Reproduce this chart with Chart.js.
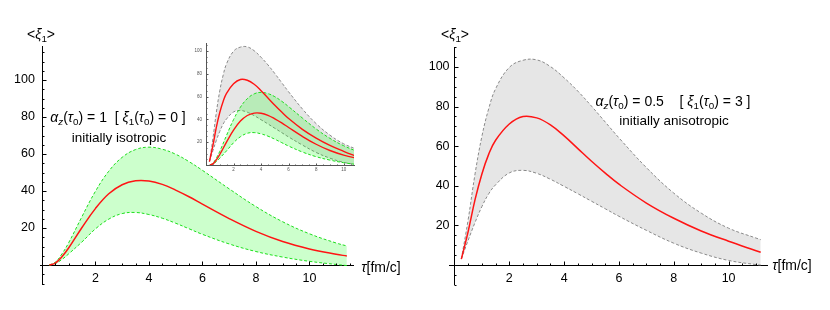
<!DOCTYPE html>
<html>
<head>
<meta charset="utf-8">
<script src="https://cdn.jsdelivr.net/npm/chart.js@4.4.1/dist/chart.umd.min.js"></script>
<style>
  body { margin: 0; background: #fff; width: 830px; height: 310px; position: relative; overflow: hidden;
         font-family: "Liberation Sans", Arial, sans-serif; }
  canvas { position: absolute; }
  .txt { position: absolute; transform: translate(-50%, -50%); white-space: pre; font-size: 13.5px;
         color: #000; line-height: 1; }
  .txt sub { font-size: 70%; vertical-align: -0.3em; line-height: 0; }
</style>
</head>
<body>
<canvas id="links" width="420" height="310" style="left:0;top:0"></canvas>
<canvas id="rechts" width="410" height="310" style="left:420px;top:0"></canvas>
<canvas id="einsatz" width="170" height="140" style="left:190px;top:36px"></canvas>

<div class="txt" style="left:41px;top:34px;font-size:14px">&lt;<i>ξ</i><sub>1</sub>&gt;</div>
<div class="txt" style="left:455px;top:34px;font-size:14px">&lt;<i>ξ</i><sub>1</sub>&gt;</div>
<div class="txt" style="left:381px;top:267px;font-size:14px"><i>τ</i>[fm/c]</div>
<div class="txt" style="left:792px;top:265px;font-size:14px"><i>τ</i>[fm/c]</div>
<div class="txt" style="left:118px;top:117px;font-size:14px"><i>α<sub>z</sub></i>(<i>τ</i><sub>0</sub>) = 1  [ <i>ξ</i><sub>1</sub>(<i>τ</i><sub>0</sub>) = 0 ]</div>
<div class="txt" style="left:119px;top:138px">initially isotropic</div>
<div class="txt" style="left:673px;top:101px;font-size:14px"><i>α<sub>z</sub></i>(<i>τ</i><sub>0</sub>) = 0.5    [ <i>ξ</i><sub>1</sub>(<i>τ</i><sub>0</sub>) = 3 ]</div>
<div class="txt" style="left:674px;top:121px">initially anisotropic</div>

<script>
// linkes Bild: anfangs isotrop
const tauLinks = [0.28, 0.5, 0.75, 1, 1.5, 2, 2.5, 3, 3.5, 4, 4.5, 5, 5.5, 6, 7, 8, 9, 10, 11, 11.4];
const linksMitte = [0, 1.0, 4.5, 9.2, 20.3, 30.5, 38.5, 43.4, 45.5, 45.4, 43.6, 40.5, 36.9, 32.9, 25.1, 18.2, 12.7, 8.7, 5.8, 4.9];
const linksOben = [0, 1.5, 6.0, 12.0, 26.2, 39.8, 50.7, 58.2, 62.4, 63.7, 62.6, 59.9, 55.9, 51.2, 41.2, 31.6, 23.4, 16.9, 11.9, 10.3];
const linksUnten = [0, 0.8, 3.0, 6.0, 12.5, 19.5, 24.8, 27.8, 28.4, 27.3, 25.3, 22.6, 19.6, 16.6, 11.4, 7.3, 4.3, 2.0, 0.3, -0.3];

// rechtes Bild: anfangs anisotrop
const tauRechts = [0.25, 0.5, 0.75, 1, 1.25, 1.5, 2, 2.5, 3, 3.5, 4, 4.5, 5, 5.5, 6, 7, 8, 9, 10, 11, 11.17];
const rechtsMitte = [3, 17, 33, 46, 56, 63, 71.2, 75, 74.3, 70.8, 65.2, 58.8, 52.4, 46.4, 40.8, 31.3, 23.6, 17.2, 12, 7.2, 6.4];
const rechtsOben = [3, 23, 46, 65, 79, 89, 99.8, 103.4, 103.6, 100.2, 94.5, 87.8, 80.2, 72.2, 64.2, 49.2, 36.3, 26.2, 18.6, 13.6, 12.8];
const rechtsUnten = [3, 12.5, 21.5, 29.5, 36, 40.5, 46.5, 47.8, 46.3, 43.3, 39.7, 36, 32.2, 28.4, 24.6, 17.5, 11, 6, 2.3, 0.2, 0];

// Achsenbeschriftung und Striche
const xHaupt = [2, 4, 6, 8, 10];
const xNeben = [0.5, 1, 1.5, 2.5, 3, 3.5, 4.5, 5, 5.5, 6.5, 7, 7.5, 8.5, 9, 9.5, 10.5, 11, 11.5];
const yHaupt = [20, 40, 60, 80, 100];
const yNeben = [-10, -5, 5, 10, 15, 25, 30, 35, 45, 50, 55, 65, 70, 75, 85, 90, 95, 105, 110, 115];

const ROT = '#ff1414';
const GRUEN = '#1fdc1f';
const GRUEN_FL = 'rgba(0,255,0,0.2)';
const GRAU = '#8a8a8a';
const GRAU_FL = 'rgba(128,128,128,0.2)';
const SCHRIFT = '"Liberation Sans", Arial, sans-serif';

function punkte(tau, werte) {
  return tau.map((t, i) => ({ x: t, y: werte[i] }));
}

function kurve(tau, werte, farbe, gestrichelt, fuellung, breite) {
  return {
    data: punkte(tau, werte),
    borderColor: farbe,
    borderWidth: breite || (gestrichelt ? 1 : 1.5),
    borderDash: gestrichelt ? [3, 2] : [],
    backgroundColor: fuellung || 'transparent',
    fill: fuellung ? '+1' : false,
    pointRadius: 0,
    tension: 0.4
  };
}

// y-Achse bei tau = 0 samt Strichen nach innen (wie bei Mathematica)
const striche = {
  id: 'striche',
  afterDraw(chart, args, opt) {
    const { ctx, chartArea, scales: { x, y } } = chart;
    const x0 = Math.round(x.getPixelForValue(0)) + 0.5;
    const y0 = Math.round(y.getPixelForValue(0)) + 0.5;
    ctx.save();
    ctx.strokeStyle = opt.farbe;
    ctx.lineWidth = 1;
    ctx.beginPath();
    ctx.moveTo(x0, chartArea.top); ctx.lineTo(x0, chartArea.bottom);
    const xs = (werte, l) => werte.forEach(v => {
      if (v > x.max) return;
      const px = Math.round(x.getPixelForValue(v)) + 0.5;
      ctx.moveTo(px, y0); ctx.lineTo(px, y0 - l);
    });
    const ys = (werte, l) => werte.forEach(v => {
      if (v > y.max || v < y.min) return;
      const py = Math.round(y.getPixelForValue(v)) + 0.5;
      ctx.moveTo(x0, py); ctx.lineTo(x0 + l, py);
    });
    xs(xHaupt, opt.haupt); xs(xNeben, opt.neben);
    ys(yHaupt, opt.haupt); ys(yNeben, opt.neben);
    ctx.stroke();
    ctx.restore();
  }
};

// yLage: x-Wert, an dem die y-Beschriftung rechtsbündig endet (etwas links der Achse)
function skalen(xMin, xMax, yMin, yMax, gr, xAbstand, yLage, farbe) {
  const tick = { font: { family: SCHRIFT, size: gr }, color: farbe, maxRotation: 0, autoSkip: false };
  return {
    x: {
      type: 'linear', min: xMin, max: xMax, position: { y: 0 },
      afterBuildTicks: ax => { ax.ticks = xHaupt.filter(v => v <= xMax).map(v => ({ value: v })); },
      ticks: Object.assign({ padding: xAbstand }, tick),
      grid: { display: false, drawTicks: false },
      border: { display: true, color: farbe, width: 1 }
    },
    y: {
      type: 'linear', min: yMin, max: yMax, position: { x: yLage },
      afterBuildTicks: ax => { ax.ticks = yHaupt.map(v => ({ value: v })); },
      ticks: tick,
      grid: { display: false, drawTicks: false },
      border: { display: false }
    }
  };
}

function bild(id, datensaetze, sk, rand, strichOpt) {
  new Chart(document.getElementById(id), {
    type: 'line',
    data: { datasets: datensaetze },
    options: {
      responsive: false,
      animation: false,
      layout: { padding: rand },
      scales: sk,
      plugins: { legend: { display: false }, tooltip: { enabled: false }, striche: strichOpt }
    },
    plugins: [striche]
  });
}

bild('links', [
  kurve(tauLinks, linksMitte, ROT, false),
  kurve(tauLinks, linksOben, GRUEN, true, GRUEN_FL),
  kurve(tauLinks, linksUnten, GRUEN, true)
], skalen(-0.07, 11.63, -10.8, 118.4, 12.5, 6, -0.26, '#000'),
  { left: 40, right: 67, top: 46, bottom: 25 }, { farbe: '#000', haupt: 4, neben: 2 });

bild('rechts', [
  kurve(tauRechts, rechtsMitte, ROT, false),
  kurve(tauRechts, rechtsOben, GRAU, true, GRAU_FL),
  kurve(tauRechts, rechtsUnten, GRAU, true)
], skalen(-0.2, 11.4, -10.1, 110.1, 12.5, 6, -0.18, '#000'),
  { left: 29, right: 63, top: 47, bottom: 25 }, { farbe: '#000', haupt: 4, neben: 2 });

// kleines Bild: beide Fälle zusammen
bild('einsatz', [
  kurve(tauRechts, rechtsMitte, ROT, false, null, 1.4),
  kurve(tauLinks, linksMitte, ROT, false, null, 1.4),
  kurve(tauLinks, linksOben, GRUEN, true, GRUEN_FL),
  kurve(tauLinks, linksUnten, GRUEN, true),
  kurve(tauRechts, rechtsOben, GRAU, true, GRAU_FL),
  kurve(tauRechts, rechtsUnten, GRAU, true)
], skalen(0, 10.75, 0, 107, 4.5, 2, -0.29, '#555'),
  { left: 16, right: 6, top: 7, bottom: 11 }, { farbe: '#555', haupt: 2, neben: 1 });
</script>
</body>
</html>
